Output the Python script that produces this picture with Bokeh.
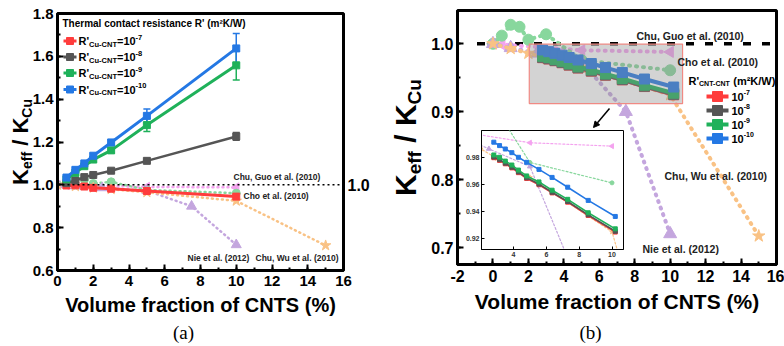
import math
from bokeh.plotting import figure
from bokeh.models import (Range1d, LinearAxis, FixedTicker, SingleIntervalTicker, Label, Span,
                          Whisker, TeeHead, ColumnDataSource, Arrow, NormalHead, PrintfTickFormatter)
from bokeh.embed import file_html
from bokeh.resources import INLINE

FONT = "Liberation Sans"

# ---------------- data ----------------
# panel (a): model results, R'Cu-CNT
A_X = [0.5, 1, 1.5, 2, 3, 5, 10]
A_R7 = [0.997, 0.998, 0.992, 0.986, 0.982, 0.971, 0.945]
A_R7_ERR = [0.012, 0.012, 0.012, 0.010, 0.010, 0.012, 0.012]
A_R8 = [1.008, 1.020, 1.036, 1.046, 1.066, 1.112, 1.226]
A_R8_ERR = [0.008, 0.008, 0.008, 0.006, 0.006, 0.006, 0.018]
A_R9 = [1.026, 1.057, 1.087, 1.118, 1.161, 1.279, 1.558]
A_R9_ERR = [0.010, 0.010, 0.010, 0.010, 0.012, 0.030, 0.068]
A_R10 = [1.034, 1.070, 1.100, 1.136, 1.198, 1.322, 1.637]
A_R10_ERR = [0.010, 0.010, 0.010, 0.010, 0.012, 0.032, 0.070]

# panel (b): model results, R'CNT-CNT
B_X = [2.8, 3.15, 3.5, 3.9, 4.3, 4.8, 5.55, 6.35, 7.3, 8.55, 10.2]
B_R7 = [0.9795, 0.9775, 0.9750, 0.9720, 0.9685, 0.9642, 0.9596, 0.9536, 0.9468, 0.9370, 0.9248]
B_R8 = [0.9800, 0.9780, 0.9755, 0.9725, 0.9690, 0.9647, 0.9601, 0.9541, 0.9473, 0.9375, 0.9254]
B_R9 = [0.9815, 0.9798, 0.9770, 0.9741, 0.9704, 0.9661, 0.9617, 0.9556, 0.9489, 0.9390, 0.9272]
B_R10 = [0.9909, 0.9884, 0.9859, 0.9832, 0.9798, 0.9761, 0.9709, 0.9650, 0.9578, 0.9481, 0.9363]

# literature data
GUO_X = [0, 0.5, 5, 10]
GUO_Y = [1.000, 0.999, 0.9905, 0.988]
CHO_X = [0, 0.5, 1, 1.5, 2, 3, 5, 10]
CHO_Y = [1.000, 1.012, 1.028, 1.025, 1.006, 1.014, 0.976, 0.961]
NIE_X = [0, 1, 2.5, 5, 7.5, 10]
NIE_Y = [1.000, 0.994, 0.986, 0.973, 0.900, 0.720]
WU_X = [0, 1, 2, 3, 5, 10, 15]
WU_Y = [1.000, 0.993, 0.986, 0.979, 0.965, 0.925, 0.717]

BASE_X = [-0.9, 16]
BASE_Y = [1.0, 1.0]
ZOOM_X = (2.05, 10.7)
ZOOM_Y = (0.912, 0.9995)

LEG_A = ["-7", "-8", "-9", "-10"]
LEG_B = ["-7", "-8", "-9", "-10"]

RED = "#ff3c3c"; GRAY = "#555555"; GREEN = "#1fb15a"; BLUE = "#2478e4"
PINK = "#f4a3ef"; CHO = "#88d79d"; NIE = "#c4a6de"; WU = "#f9c285"

WID = {' ': 278, "'": 238, '(': 333, ')': 333, ',': 278, '-': 333, '.': 278, '/': 278, '=': 584,
       'A': 722, 'C': 722, 'K': 722, 'N': 722, 'R': 722, 'T': 611, 'W': 944, 'a': 556, 'e': 556,
       'f': 333, 'l': 278, 'u': 611, 'm': 889, '²': 333, 'h': 611, 'o': 611, 'n': 611, 'r': 389,
       's': 556, 'i': 278, 't': 333, 'c': 556}


def tw(s, size):
    return sum(WID.get(c, 556) for c in s) * size / 1000.0


def add_label(fig, X, Y, text, size, align="left", baseline="middle", angle=0.0, font=FONT,
              style="bold", color="black", rn="px"):
    kw = dict(x_range_name=rn, y_range_name=rn) if rn else {}
    fig.add_layout(Label(x=X, y=Y, text=text, text_font=font,
                         text_font_style=style, text_font_size=f"{size}px", text_align=align,
                         text_baseline=baseline, angle=angle, text_color=color, **kw))


def add_rich(fig, X, Y, pieces, size, small, vertical=False, color="black", rn="px"):
    off = 0.0
    for txt, kind in pieces:
        s = size if kind == "n" else small
        shift = 0.0 if kind == "n" else (-0.3 * size if kind == "sub" else 0.36 * size)
        stripped = txt.lstrip(" ")
        off += tw(txt[:len(txt) - len(stripped)], s)
        if vertical:
            add_label(fig, X - shift, Y - off, stripped, s, angle=math.pi / 2, color=color, rn=rn)
        else:
            add_label(fig, X + off, Y - shift, stripped, s, color=color, rn=rn)
        off += tw(stripped, s)


def rich_len(pieces, size, small):
    return sum(tw(t, size if k == "n" else small) for t, k in pieces)


def style_axis(ax, size, lw=3, tin=6, mtin=3):
    ax.axis_line_width = lw
    ax.axis_line_color = "black"
    ax.major_tick_in = tin
    ax.major_tick_out = 0
    ax.major_tick_line_width = 2 if lw > 1 else 1
    ax.minor_tick_in = mtin
    ax.minor_tick_out = 0
    ax.minor_tick_line_width = 2 if lw > 1 else 1
    ax.major_label_text_font = FONT
    ax.major_label_text_font_style = "bold"
    ax.major_label_text_font_size = size
    ax.major_label_text_color = "black"


def base_fig(w, h, xr, yr, bl, br, bt, bb):
    f = figure(width=w, height=h, x_range=Range1d(*xr), y_range=Range1d(*yr),
               output_backend="svg", toolbar_location=None, sizing_mode="fixed",
               min_border_left=bl, min_border_right=br, min_border_top=bt, min_border_bottom=bb)
    f.xgrid.visible = False
    f.ygrid.visible = False
    f.outline_line_color = "black"
    f.outline_line_width = 3
    f.outline_line_alpha = 1
    return f


def lit(fig, xs, ys, color, marker, size, lw, dash, angle=0.0):
    fig.line(xs, ys, line_color=color, line_width=lw, line_dash=dash, line_cap="round")
    fig.scatter(xs, ys, marker=marker, size=size, angle=angle, fill_color=color, line_color=color)


# ---------------- panel (a) ----------------
fa = base_fig(392, 346, (0, 16), (0.6, 1.8), 57, 49, 13, 76)
fa.extra_x_ranges = {"px": Range1d(57, 343)}
fa.extra_y_ranges = {"px": Range1d(270, 13)}
fa.xaxis.ticker = SingleIntervalTicker(interval=2, num_minor_ticks=2)
fa.yaxis.ticker = SingleIntervalTicker(interval=0.2, num_minor_ticks=2)
fa.yaxis.formatter = PrintfTickFormatter(format="%.1f")
style_axis(fa.xaxis[0], "15px")
style_axis(fa.yaxis[0], "15px")
fa.yaxis.major_label_standoff = 4
fa.xaxis.axis_label = "Volume fraction of CNTS (%)"
fa.xaxis.axis_label_text_font = FONT
fa.xaxis.axis_label_text_font_style = "bold"
fa.xaxis.axis_label_text_font_size = "20px"
fa.xaxis.axis_label_text_color = "black"
fa.xaxis.axis_label_standoff = 5
ra = LinearAxis(ticker=FixedTicker(ticks=[1.0]), formatter=PrintfTickFormatter(format="%.1f"),
                axis_line_color=None, major_tick_line_color=None, minor_tick_line_color=None,
                major_tick_in=0, major_tick_out=0, minor_tick_in=0, minor_tick_out=0,
                major_label_standoff=4)
ra.major_label_text_font = FONT
ra.major_label_text_font_style = "bold"
ra.major_label_text_font_size = "16px"
ra.major_label_text_color = "black"
fa.add_layout(ra, "right")

fa.add_layout(Span(location=1.0, dimension="width", line_color="black", line_width=1.5,
                   line_dash="2 3"))

lit(fa, GUO_X, GUO_Y, PINK, "triangle", 9, 2.5, "1 4", angle=math.pi / 2)
lit(fa, CHO_X, CHO_Y, CHO, "circle", 8, 2.5, "1 4")
lit(fa, NIE_X, NIE_Y, NIE, "triangle", 10, 2.5, "1 4")
lit(fa, WU_X, WU_Y, WU, "star", 11, 2.5, "1 4")


def model_a(fig, ys, errs, color, lw):
    src = ColumnDataSource(dict(x=A_X, y=ys, lo=[y - e for y, e in zip(ys, errs)],
                                hi=[y + e for y, e in zip(ys, errs)]))
    fig.add_layout(Whisker(source=src, base="x", upper="hi", lower="lo", dimension="height",
                           line_color=color, line_width=1.5,
                           upper_head=TeeHead(size=7, line_color=color, line_width=1.5),
                           lower_head=TeeHead(size=7, line_color=color, line_width=1.5)))
    fig.line("x", "y", source=src, line_color=color, line_width=lw)
    fig.scatter("x", "y", source=src, marker="square", size=7, fill_color=color, line_color=color)


model_a(fa, A_R7, A_R7_ERR, RED, 3)
model_a(fa, A_R8, A_R8_ERR, GRAY, 2.5)
model_a(fa, A_R9, A_R9_ERR, GREEN, 3)
model_a(fa, A_R10, A_R10_ERR, BLUE, 3)

# legend (a)
add_label(fa, 62, 23, "Thermal contact resistance R' (m²K/W)", 10)
for yy, col, sup in zip([40.5, 56.5, 72.5, 89.0], [RED, GRAY, GREEN, BLUE], LEG_A):
    fa.line([63, 76], [yy, yy], x_range_name="px", y_range_name="px", line_color=col, line_width=3)
    fa.scatter([69.5], [yy], x_range_name="px", y_range_name="px", marker="square", size=7,
               fill_color=col, line_color=col)
    add_rich(fa, 78, yy, [("R'", "n"), ("Cu-CNT", "sub"), ("=10", "n"), (sup, "sup")], 11, 7.5)

for X, Y, t in [(233, 176, "Chu, Guo et al. (2010)"), (243, 195, "Cho et al. (2010)"),
                (187, 257, "Nie et al. (2012)"), (255, 257, "Chu, Wu et al. (2010)")]:
    add_label(fa, X, Y, t, 8.5, color="#222222")

# ---------------- panel (b) ----------------
fb = base_fig(392, 346, (-2, 16), (0.675, 1.049), 65, 8, 10, 82)
fb.extra_x_ranges = {"px": Range1d(457, 776)}
fb.extra_y_ranges = {"px": Range1d(264, 10)}
fb.xaxis.ticker = SingleIntervalTicker(interval=2, num_minor_ticks=2)
fb.yaxis.ticker = SingleIntervalTicker(interval=0.1, num_minor_ticks=2)
fb.xaxis.formatter = PrintfTickFormatter(format="%d")
fb.yaxis.formatter = PrintfTickFormatter(format="%.1f")
style_axis(fb.xaxis[0], "16px")
style_axis(fb.yaxis[0], "16px")
fb.yaxis.major_label_standoff = 4
fb.xaxis.axis_label = "Volume fraction of CNTS (%)"
fb.xaxis.axis_label_text_font = FONT
fb.xaxis.axis_label_text_font_style = "bold"
fb.xaxis.axis_label_text_font_size = "21px"
fb.xaxis.axis_label_text_color = "black"
fb.xaxis.axis_label_standoff = 5

fb.line(BASE_X, BASE_Y, line_color="black", line_width=3.5, line_dash="8 11")
lit(fb, GUO_X, GUO_Y, PINK, "triangle", 11, 4, "1 6", angle=math.pi / 2)
lit(fb, CHO_X, CHO_Y, CHO, "circle", 11, 4, "1 6")
lit(fb, NIE_X, NIE_Y, NIE, "triangle", 13, 4, "1 6")
lit(fb, WU_X, WU_Y, WU, "star", 13, 4, "1 6")

for ys, col in [(B_R7, RED), (B_R8, GRAY), (B_R9, GREEN), (B_R10, BLUE)]:
    fb.line(B_X, ys, line_color=col, line_width=4)
    fb.scatter(B_X, ys, marker="square", size=10, fill_color=col, line_color=col)

fb.quad(left=[ZOOM_X[0]], right=[ZOOM_X[1]], bottom=[ZOOM_Y[0]], top=[ZOOM_Y[1]],
        fill_color="#8c8c8c", fill_alpha=0.38, line_color="#f08a84", line_width=1.2)

fb.add_layout(Arrow(x_start=609, y_start=108, x_end=593, y_end=127, x_range_name="px",
                    y_range_name="px", line_width=1.5, line_color="black",
                    end=NormalHead(size=6, fill_color="black", line_color="black")))

# legend (b)
add_rich(fb, 688, 80, [("R'", "n"), ("CNT-CNT", "sub"), (" (m²K/W)", "n")], 11, 7)
for yy, col, sup in zip([96, 110, 124, 138], [RED, GRAY, GREEN, BLUE], LEG_B):
    fb.line([706, 728], [yy, yy], x_range_name="px", y_range_name="px", line_color=col, line_width=4)
    fb.scatter([717], [yy], x_range_name="px", y_range_name="px", marker="square", size=10,
               fill_color=col, line_color=col)
    add_rich(fb, 731, yy, [("10", "n"), (sup, "sup")], 11, 7)

for X, Y, t in [(636, 35, "Chu, Guo et al. (2010)"), (677, 61, "Cho et al. (2010)"),
                (664, 175, "Chu, Wu et al. (2010)"), (642, 248, "Nie et al. (2012)")]:
    add_label(fb, X, Y, t, 10.5, color="#222222")

# ---------------- inset ----------------
fi = figure(frame_width=142, frame_height=119, x_range=Range1d(*ZOOM_X), y_range=Range1d(*ZOOM_Y),
            output_backend="svg", toolbar_location=None, sizing_mode="fixed",
            min_border_left=18, min_border_right=2, min_border_top=2, min_border_bottom=14)
fi.xgrid.visible = False
fi.ygrid.visible = False
fi.border_fill_alpha = 0
fi.background_fill_color = "white"
fi.outline_line_color = "black"
fi.outline_line_width = 1
fi.xaxis.ticker = SingleIntervalTicker(interval=2, num_minor_ticks=0)
fi.yaxis.ticker = SingleIntervalTicker(interval=0.02, num_minor_ticks=0)
fi.yaxis.formatter = PrintfTickFormatter(format="%.2f")
for ax in (fi.xaxis[0], fi.yaxis[0]):
    style_axis(ax, "7px", lw=1, tin=3, mtin=0)
    ax.major_label_standoff = 2
    ax.major_label_text_color = "#333333"

lit(fi, GUO_X, GUO_Y, PINK, "triangle", 5, 1.2, "2 2", angle=math.pi / 2)
lit(fi, CHO_X, CHO_Y, CHO, "circle", 4, 1.2, "2 2")
lit(fi, NIE_X, NIE_Y, NIE, "triangle", 5, 1.2, "2 2")
lit(fi, WU_X, WU_Y, WU, "star", 5, 1.2, "2 2")
for ys, col in [(B_R7, RED), (B_R8, GRAY), (B_R9, GREEN), (B_R10, BLUE)]:
    fi.line(B_X, ys, line_color=col, line_width=1.6)
    fi.scatter(B_X, ys, marker="square", size=4, fill_color=col, line_color=col)

# ---------------- overlay for texts outside the frames ----------------
fo = figure(width=784, height=346, x_range=Range1d(0, 784), y_range=Range1d(346, 0),
            output_backend="svg", toolbar_location=None, sizing_mode="fixed",
            x_axis_type=None, y_axis_type=None, min_border=0)
fo.xgrid.visible = False
fo.ygrid.visible = False
fo.outline_line_color = None
fo.background_fill_alpha = 0
fo.border_fill_alpha = 0

ylab = [("K", "n"), ("eff", "sub"), (" / K", "n"), ("Cu", "sub")]
L = rich_len(ylab, 22, 14)
add_rich(fo, 20, 141.5 + L / 2, ylab, 22, 14, vertical=True, rn=None)
add_label(fo, 183, 332, "(a)", 19, align="center", font="Liberation Serif", style="normal", rn=None)
L = rich_len(ylab, 30, 19)
add_rich(fo, 405, 137 + L / 2, ylab, 30, 19, vertical=True, rn=None)
add_label(fo, 590, 332, "(b)", 19, align="center", font="Liberation Serif", style="normal", rn=None)

# absolute placement of each root (no automatic frame alignment between them)
fa.styles = {"position": "absolute", "left": "0px", "top": "0px"}
fb.styles = {"position": "absolute", "left": "392px", "top": "0px"}
fi.styles = {"position": "absolute", "left": "462px", "top": "128px", "z-index": "5"}
fo.styles = {"position": "absolute", "left": "0px", "top": "0px", "z-index": "6"}

open("out.html", "w").write(file_html([fa, fb, fi, fo], INLINE))
